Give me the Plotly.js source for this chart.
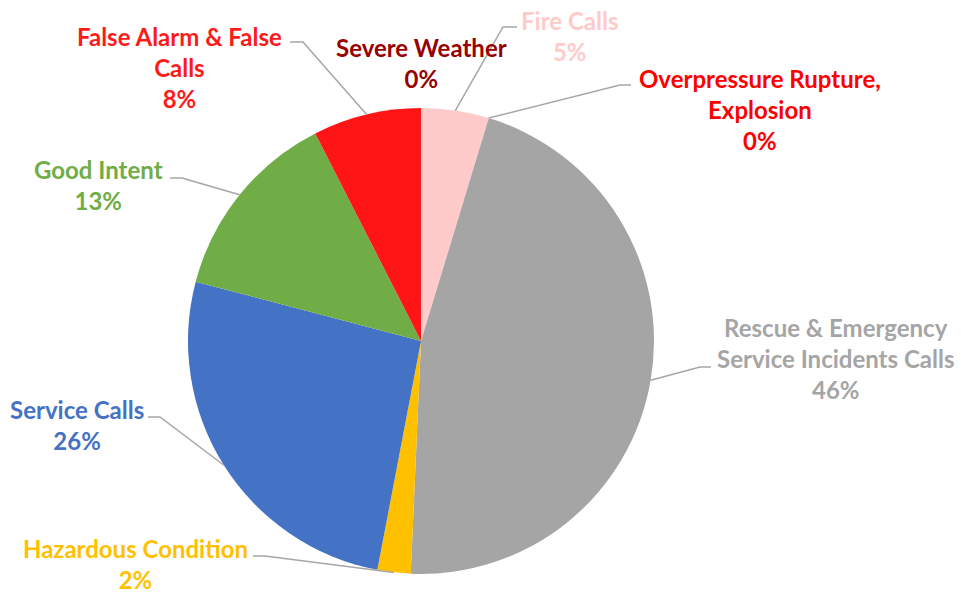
<!DOCTYPE html>
<html>
<head>
<meta charset="utf-8">
<script src="https://cdn.plot.ly/plotly-3.0.1.min.js"></script>
<style>html,body{margin:0;padding:0;background:#fff;}#chart{width:961px;height:594px;}</style>
</head>
<body>
<div id="chart"></div>
<script>
// ---- data ----
const labels = ['Fire Calls', 'Overpressure Rupture, Explosion', 'Rescue & Emergency Service Incidents Calls', 'Hazardous Condition', 'Service Calls', 'Good Intent', 'False Alarm & False Calls', 'Severe Weather'];
const labelLines = [['Fire Calls'], ['Overpressure Rupture,', 'Explosion'], ['Rescue & Emergency', 'Service Incidents Calls'], ['Hazardous Condition'], ['Service Calls'], ['Good Intent'], ['False Alarm & False', 'Calls'], ['Severe Weather']];
const values = [4.7, 0, 46.0, 2.3, 26.1, 13.4, 7.5, 0];
const sliceColors = ['#FFCACA', '#FF0000', '#A5A5A5', '#FFC000', '#4472C4', '#70AD47', '#FF1515', '#990000'];
const textColors = ['#FFCACA', '#FF0000', '#A5A5A5', '#FFC000', '#4472C4', '#70AD47', '#FF1A1A', '#990000'];

// ---- layout geometry (pixels) ----
const W = 961, H = 594;
const M = {l: 188, r: 307, t: 108, b: 20};
const PW = W - M.l - M.r, PH = H - M.t - M.b;
const cx = M.l + PW / 2, cy = M.t + PH / 2, R = Math.min(PW, PH) / 2;
const toX = px => (px - M.l) / PW;
const toY = py => (H - M.b - py) / PH;

// label placement (text centre) and leader line knee/end points, px
const labelPos = [
  {x: 569, y: 36, knee: [503, 27], end: [517, 27]},
  {x: 760, y: 109, knee: [620, 85], end: [631, 85]},
  {x: 835, y: 358, knee: [700, 367], end: [711, 367]},
  {x: 135, y: 564, knee: [265, 556], end: [253, 556]},
  {x: 77, y: 425, knee: [160, 417], end: [148, 417]},
  {x: 98, y: 185, knee: [182, 178], end: [170, 178]},
  {x: 179, y: 67, knee: [303, 42], end: [290, 42]},
  {x: 421, y: 63, knee: null, end: null}
];

const total = values.reduce((a, b) => a + b, 0);
const annotations = [], shapes = [];
let cum = 0;
values.forEach((v, i) => {
  const mid = (cum + v / 2) / total * 2 * Math.PI;
  cum += v;
  const pct = Math.round(v / total * 100) + '%';
  const lp = labelPos[i];
  annotations.push({
    xref: 'paper', yref: 'paper', x: toX(lp.x), y: toY(lp.y),
    xanchor: 'center', yanchor: 'middle', showarrow: false, align: 'center',
    text: labelLines[i].concat([pct]).join('<br>'),
    font: {family: 'Lato, "Open Sans", sans-serif', size: 24, color: textColors[i], weight: 700}
  });
  if (lp.knee) {
    const ex = cx + R * Math.sin(mid), ey = cy - R * Math.cos(mid);
    shapes.push({
      type: 'path', xref: 'paper', yref: 'paper',
      path: `M ${toX(ex)} ${toY(ey)} L ${toX(lp.knee[0])} ${toY(lp.knee[1])} L ${toX(lp.end[0])} ${toY(lp.end[1])}`,
      line: {color: '#A6A6A6', width: 1.5}
    });
  }
});

const data = [{
  type: 'pie', labels: labels, values: values, sort: false, direction: 'clockwise', rotation: 0,
  marker: {colors: sliceColors, line: {width: 0}}, textinfo: 'none', hoverinfo: 'label+percent',
  domain: {x: [0, 1], y: [0, 1]}
}];

const layout = {
  width: W, height: H, margin: M, showlegend: false,
  paper_bgcolor: '#ffffff', plot_bgcolor: '#ffffff',
  annotations: annotations, shapes: shapes
};

Plotly.newPlot('chart', data, layout, {staticPlot: true, displayModeBar: false});
</script>
</body>
</html>
